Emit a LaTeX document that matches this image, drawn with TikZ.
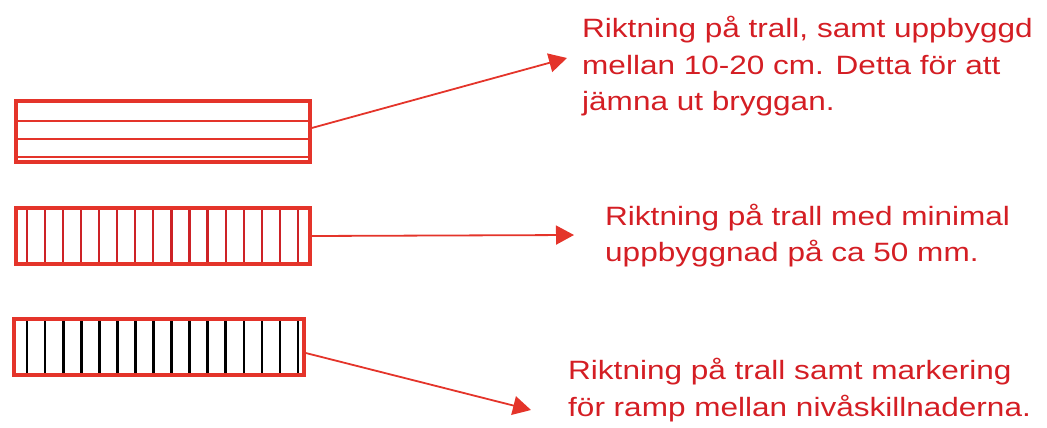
\documentclass[tikz,border=0pt]{standalone}
\usepackage{fontspec}
\setmainfont{Liberation Sans}[FakeStretch=1.19]
\usetikzlibrary{
    positioning,      % relative placement
    arrows.meta,      % arrow tips
    calc              % shifted coordinates
}
\definecolor{notered}{RGB}{212,30,36}
\definecolor{plankred}{RGB}{228,52,42}
\definecolor{slatred}{RGB}{205,34,38}

\begin{document}
\begin{tikzpicture}[
    x=1pt, y=-1pt,
    % Style for the deck outlines
    deck_style/.style={
        draw=plankred,
        line width=3.5pt,
        inner sep=0pt
    },
    % Style for the boards inside a deck
    board_style/.style={
        line width=2.3pt
    },
    % Style for the pointing arrows
    pointer_style/.style={
        draw=plankred,
        line width=1.8pt,
        -{Triangle[length=18pt, width=19pt]}
    },
    % Style for the explanation texts (anchored at the last line)
    note_style/.style={
        text=notered,
        font=\fontsize{26.5}{36.7}\selectfont,
        inner sep=0pt,
        align=left,
        anchor=base west
    }
]
    \useasboundingbox (0,0) rectangle (1047,428);

    % 1. Boards inside the decks
    \foreach \y in {121,139,157}
        \draw[board_style, plankred] (16,\y) -- (310,\y);
    \foreach \i in {0,...,15}
        \draw[board_style, slatred] (26.7+18.09*\i,208) -- (26.7+18.09*\i,264);
    \foreach \i in {0,...,15}
        \draw[board_style, black] (27.3+18.03*\i,319) -- (27.3+18.03*\i,375);

    % 2. The three deck outlines
    \node[deck_style, minimum width=294pt, minimum height=61pt] (deck_long) at (163,131.5) {};
    \node[deck_style, minimum width=294pt, minimum height=56pt] (deck_cross) at (163,236) {};
    \node[deck_style, minimum width=290pt, minimum height=56pt] (deck_ramp) at (159,347) {};

    % 3. The explanation texts
    \node[note_style] (note_long) at (582,110.7)
        {Riktning på trall, samt uppbyggd\\mellan 10-20 cm. Detta för att\\jämna ut bryggan.};
    \node[note_style] (note_cross) at (605,261.7)
        {Riktning på trall med minimal\\uppbyggnad på ca 50 mm.};
    \node[note_style] (note_ramp) at (568,416)
        {Riktning på trall samt markering\\för ramp mellan nivåskillnaderna.};

    % 4. Arrow ends in front of the texts
    \coordinate (tip_long) at (567,58);
    \coordinate (tip_cross) at (574,235);
    \coordinate (tip_ramp) at (531,410);

    % 5. Arrows from the decks to the texts
    \draw[pointer_style] ([yshift=3.5pt]deck_long.east) -- (tip_long);
    \draw[pointer_style] (deck_cross.east) -- (tip_cross);
    \draw[pointer_style] ([yshift=-6pt]deck_ramp.east) -- (tip_ramp);

\end{tikzpicture}
\end{document}
